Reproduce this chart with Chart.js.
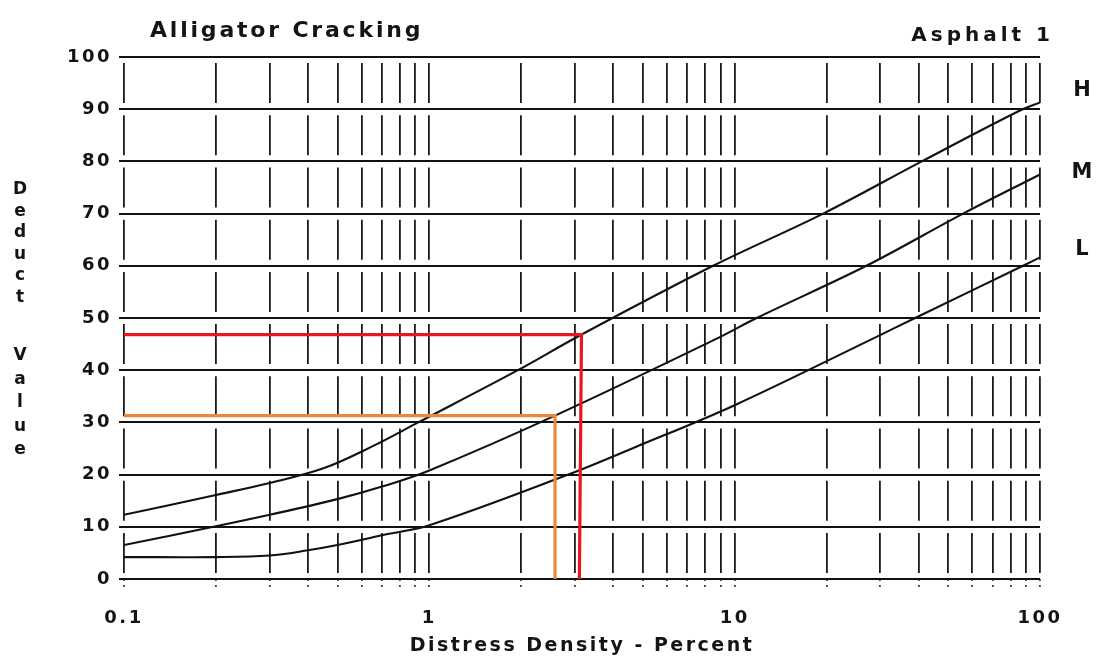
<!DOCTYPE html>
<html><head><meta charset="utf-8">
<script src="https://cdn.jsdelivr.net/npm/chart.js@4/dist/chart.umd.min.js"></script>
<style>html,body{margin:0;padding:0;background:#fff;} #wrap{width:1097px;height:657px;position:relative;}</style>
</head><body><div id="wrap"><canvas id="c"></canvas></div>
<script>
// ---- data ----
const hX = [0.1, 0.2, 0.3, 0.45, 0.65, 0.92, 1.95, 3.1, 8.5, 19.5, 41, 85, 100];
const hY = [12.3, 16.1, 18.4, 21.2, 25.4, 30, 40, 46.6, 60, 70, 80, 89.6, 91.3];
const mX = [0.1, 0.2, 0.3, 0.5, 0.7, 1, 2.58, 8.7, 11.8, 27, 56, 100];
const mY = [6.5, 10.1, 12.3, 15.3, 17.7, 20.8, 31.3, 46, 50, 60, 70, 77.5];
const lX = [0.1, 0.2, 0.3, 0.4, 0.5, 0.7, 1, 2.85, 4.7, 10, 28.7, 39, 88, 100];
const lY = [4.2, 4.2, 4.5, 5.5, 6.5, 8.4, 10.3, 20, 25.2, 33.3, 46.2, 50, 60, 61.6];
const redX = [0.1, 3.15, 3.1];
const redY = [46.8, 46.8, 0];
const orangeX = [0.1, 2.58, 2.58];
const orangeY = [31.3, 31.3, 0];

const xGridValues = [0.1,0.2,0.3,0.4,0.5,0.6,0.7,0.8,0.9,1,2,3,4,5,6,7,8,9,10,20,30,40,50,60,70,80,90,100];
const xTickValues = [0.1, 1, 10, 100];
const xTickLabels = ['0.1', '1', '10', '100'];
const yTickValues = [0,10,20,30,40,50,60,70,80,90,100];
const yTickLabels = ['0','10','20','30','40','50','60','70','80','90','100'];
const curveLabels = ['H', 'M', 'L'];
const chartTitle = 'Alligator Cracking';
const chartSubtitle = 'Asphalt 1';
const xTitle = 'Distress Density - Percent';
const yTitle = 'Deduct Value';

const FONT = '"DejaVu Sans", sans-serif';
const INK = '#141414';
const pts = (xs, ys) => xs.map((x, i) => ({x: x, y: ys[i]}));
const curve = (name, xs, ys) => ({label: name, data: pts(xs, ys), borderColor: '#111', borderWidth: 2.1,
  pointRadius: 0, fill: false, tension: 0.35, order: 2});
const guide = (name, xs, ys, col) => ({label: name, data: pts(xs, ys), borderColor: col, borderWidth: 3.2,
  pointRadius: 0, fill: false, tension: 0, order: 0, borderJoinStyle: 'miter'});

const textPlugin = {
  id: 'txt',
  beforeUpdate(chart) { chart.ctx.letterSpacing = '2.5px'; },
  beforeDraw(chart) { chart.ctx.letterSpacing = '2.5px'; },
  afterDraw(chart) {
    const c = chart.ctx;
    c.save();
    c.fillStyle = INK;
    c.textBaseline = 'alphabetic';
    c.font = 'bold 22px ' + FONT; c.letterSpacing = '2.8px'; c.textAlign = 'left';
    c.fillText(chartTitle, 150, 37);
    c.font = 'bold 20px ' + FONT; c.letterSpacing = '4px'; c.textAlign = 'right';
    c.fillText(chartSubtitle, 1054, 41);
    // curve labels
    c.font = 'bold 21px ' + FONT; c.letterSpacing = '0px'; c.textAlign = 'center'; c.textBaseline = 'middle';
    const ly = [91, 173, 250];
    curveLabels.forEach((t, i) => c.fillText(t, 1082, ly[i]));
    // stacked y title
    c.font = 'bold 17px ' + FONT;
    const words = yTitle.split(' ');
    let y = 190;
    words[0].split('').forEach(ch => { c.fillText(ch, 20, y); y += 21.5; });
    y = 356;
    words[1].split('').forEach(ch => { c.fillText(ch, 20, y); y += 23.5; });
    c.restore();
  }
};

new Chart(document.getElementById('c'), {
  type: 'line',
  data: {
    datasets: [
      guide('red', redX, redY, '#e8161e'),
      guide('orange', orangeX, orangeY, '#e9893d'),
      curve('H', hX, hY),
      curve('M', mX, mY),
      curve('L', lX, lY)
    ]
  },
  options: {
    responsive: true, maintainAspectRatio: false, animation: false,
    layout: {padding: {left: 0, top: 57, right: 57, bottom: 0}},
    plugins: {legend: {display: false}, tooltip: {enabled: false}},
    scales: {
      x: {
        type: 'logarithmic', min: 0.1, max: 100,
        afterBuildTicks(s) { s.ticks = xGridValues.map(v => ({value: v})); },
        ticks: {
          autoSkip: false, maxRotation: 0, minRotation: 0,
          callback(v) { const i = xTickValues.indexOf(v); return i >= 0 ? xTickLabels[i] : ''; },
          font: {family: FONT, size: 18, weight: 'bold'}, color: INK, padding: 20
        },
        grid: {color: '#1a1a1a', lineWidth: 1.8, tickLength: 9, tickColor: '#444', tickWidth: 1.8, tickBorderDash: [2, 4]},
        border: {display: false, dash: [40, 12.2], dashOffset: 46.1},
        title: {display: true, text: xTitle, font: {family: FONT, size: 19, weight: 'bold'}, color: INK, padding: {top: 0, bottom: 0}},
        afterFit(s) { s.height = 78; }
      },
      y: {
        type: 'linear', min: 0, max: 100,
        afterBuildTicks(s) { s.ticks = yTickValues.map(v => ({value: v})); },
        ticks: {
          callback(v) { const i = yTickValues.indexOf(v); return i >= 0 ? yTickLabels[i] : ''; },
          font: {family: FONT, size: 18, weight: 'bold'}, color: INK, padding: 7
        },
        grid: {color: '#111', lineWidth: 2, tickLength: 5, tickColor: '#111', tickWidth: 2},
        border: {display: false},
        afterFit(s) { s.width = 124; }
      }
    }
  },
  plugins: [textPlugin]
});
</script>
</body></html>
